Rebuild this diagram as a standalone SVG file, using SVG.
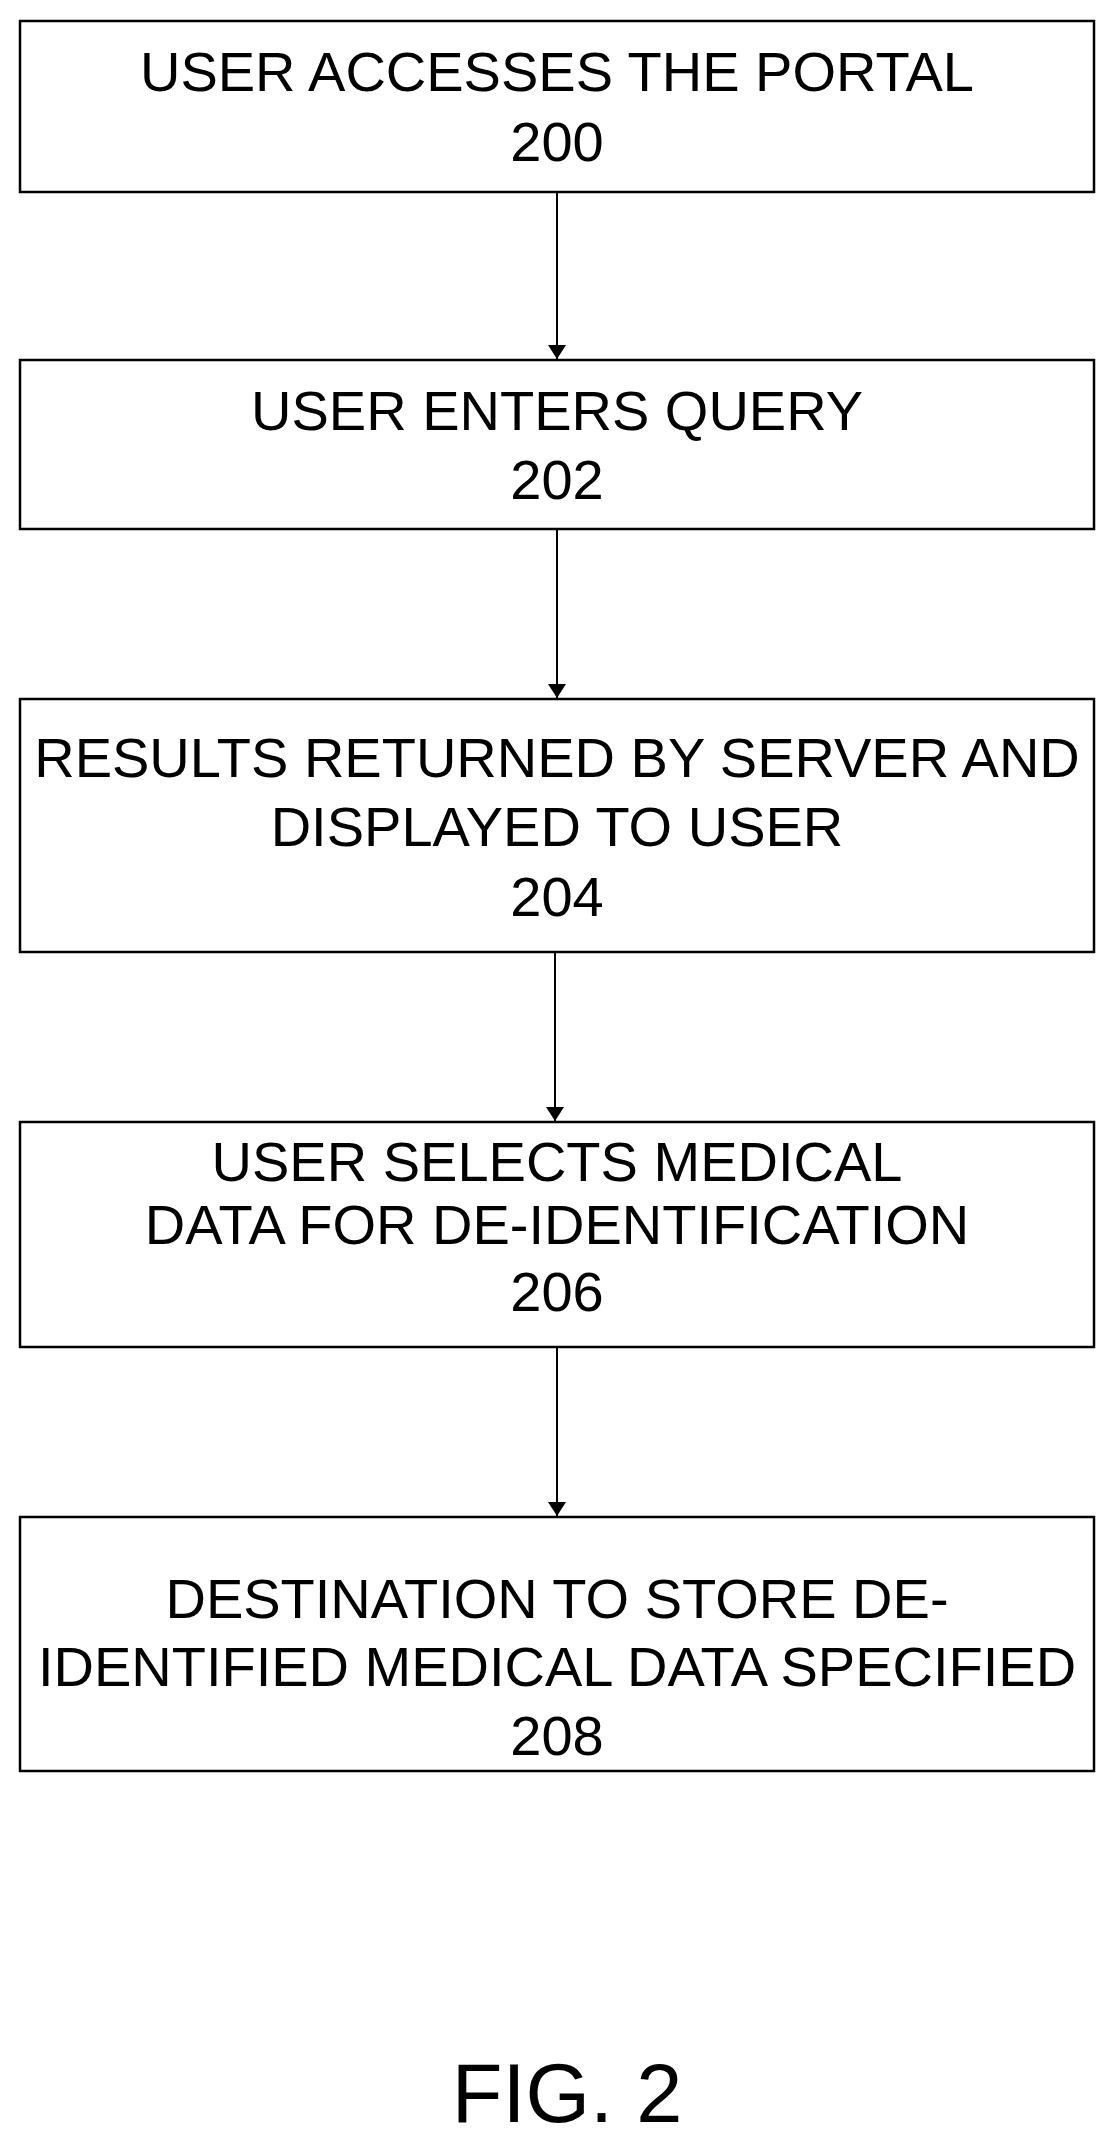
<svg xmlns="http://www.w3.org/2000/svg" width="1115" height="2144" viewBox="0 0 1115 2144">
<style>
.b{fill:#fff;stroke:#000;stroke-width:2.5}
.t{font-family:"Liberation Sans",Arial,sans-serif;font-size:56px;text-anchor:middle;fill:#000}
.c{stroke:#000;stroke-width:2;fill:none}
</style>
<defs><marker id="a" markerWidth="14" markerHeight="18" refX="14" refY="9" orient="auto" markerUnits="userSpaceOnUse"><path d="M0,0 L14,9 L0,18 z" fill="#000"/></marker></defs>
<rect width="1115" height="2144" fill="#fff"/>
<g id="n200"><rect class="b" x="20" y="21" width="1074" height="171"/><text class="t" x="557" y="91">USER ACCESSES THE PORTAL</text><text class="t" x="557" y="161">200</text></g>
<g id="n202"><rect class="b" x="20" y="360" width="1074" height="169"/><text class="t" x="557" y="430">USER ENTERS QUERY</text><text class="t" x="557" y="499">202</text></g>
<g id="n204"><rect class="b" x="20" y="699" width="1074" height="253"/><text class="t" x="557" y="777">RESULTS RETURNED BY SERVER AND</text><text class="t" x="557" y="846">DISPLAYED TO USER</text><text class="t" x="557" y="916">204</text></g>
<g id="n206"><rect class="b" x="20" y="1122" width="1074" height="225"/><text class="t" x="557" y="1181">USER SELECTS MEDICAL</text><text class="t" x="557" y="1244">DATA FOR DE-IDENTIFICATION</text><text class="t" x="557" y="1311">206</text></g>
<g id="n208"><rect class="b" x="20" y="1517" width="1074" height="254"/><text class="t" x="557" y="1618">DESTINATION TO STORE DE-</text><text class="t" x="557" y="1686">IDENTIFIED MEDICAL DATA SPECIFIED</text><text class="t" x="557" y="1755">208</text></g>
<g id="connectors">
<line class="c" x1="557" y1="192" x2="557" y2="359" marker-end="url(#a)"/>
<line class="c" x1="557" y1="529" x2="557" y2="698" marker-end="url(#a)"/>
<line class="c" x1="555" y1="952" x2="555" y2="1121" marker-end="url(#a)"/>
<line class="c" x1="557" y1="1347" x2="557" y2="1516" marker-end="url(#a)"/>
</g>
<text x="567" y="2122" style="font-family:'Liberation Sans',Arial,sans-serif;font-size:83px;text-anchor:middle">FIG. 2</text>
</svg>
